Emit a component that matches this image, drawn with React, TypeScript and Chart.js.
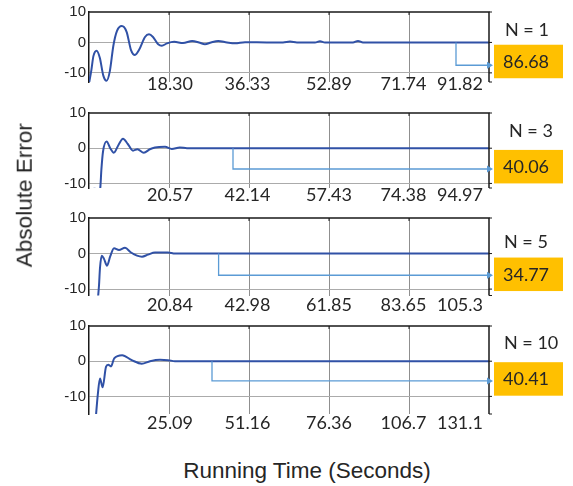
import React, { useEffect, useRef } from 'react';
import { Chart, registerables } from 'chart.js';

Chart.register(...registerables);

// ---- data ----
const tickSlots = [20, 40, 60, 80, 100];

const iterN1 = [0, 0.6, 1.1, 1.9, 2.7, 3.6, 4.4, 5.2, 6.1, 7.0, 8.2, 9.4, 10.5, 11.5, 12.5, 14, 15, 16, 17.3, 18.2, 19.5, 21.3, 23.5, 25.8, 27.5, 29, 30.5, 32.3, 34.5, 36.5, 39, 45, 48.5, 50.25, 52, 56.5, 57.75, 59, 66, 67.25, 68.5, 100];
const errN1 = [-13.5, -9, -4.5, -2.7, -5, -11, -12.6, -9.5, -1, 3.8, 5.4, 3.5, -2.5, -4.1, -2.5, 1.8, 2.7, 1.8, -0.6, -1.1, -0.3, 0.2, -0.2, 0.5, 0, -0.6, 0, 0.5, 0, -0.3, 0.1, 0, 0, 0.3, 0, 0, 0.4, 0, 0, 0.5, 0, 0];

const iterN3 = [0, 1.5, 2.4, 2.8, 3.1, 3.5, 4.4, 5.3, 6.2, 7.4, 8.5, 9.7, 11, 12.1, 13.7, 15.2, 16.5, 19, 20.7, 22.7, 24.5, 100];
const errN3 = [-11.8, -11.5, -12.5, -11.5, -6, -1, 1.9, 0, -1.3, 1.0, 2.7, 1.2, -0.7, -0.3, -1.3, -0.3, 0.2, 0.4, -0.2, 0.2, 0, 0];

const iterN5 = [2.2, 2.5, 2.75, 3.2, 3.75, 4.5, 5.3, 6.25, 7.5, 9, 10.5, 12, 13.25, 14.75, 16.5, 19.75, 21.5, 100];
const errN5 = [-13, -9, -4, -0.6, -1.5, -3.4, -0.8, 1.5, 1.0, 1.6, 0.3, -0.6, -0.9, -0.3, 0.3, 0.3, 0, 0];

const iterN10 = [1.7, 2.2, 2.75, 3.4, 4.25, 4.8, 5.5, 6.3, 8.3, 10.7, 13.2, 15.25, 17.75, 19.75, 21.5, 100];
const errN10 = [-16, -9.5, -4.9, -7.4, -1.6, -1.0, -1.5, 0.8, 1.7, 0.3, -0.7, 0, 0.4, 0.3, 0, 0];

const timeLabelsN1 = ['18.30', '36.33', '52.89', '71.74', '91.82'];
const timeLabelsN3 = ['20.57', '42.14', '57.43', '74.38', '94.97'];
const timeLabelsN5 = ['20.84', '42.98', '61.85', '83.65', '105.3'];
const timeLabelsN10 = ['25.09', '51.16', '76.36', '106.7', '131.1'];

const nValues = [1, 3, 5, 10];
const boxValues = ['86.68', '40.06', '34.77', '40.41'];
const arrowFromX = [91.75, 36, 32.4, 30.75];
const arrowLevel = [-7.5, -5.9, -6.1, -5.6];
const yMins = [-13, -11.3, -11.8, -15];
const yTickValues = [-10, 0, 10];

const series = [
  { x: iterN1, y: errN1, labels: timeLabelsN1 },
  { x: iterN3, y: errN3, labels: timeLabelsN3 },
  { x: iterN5, y: errN5, labels: timeLabelsN5 },
  { x: iterN10, y: errN10, labels: timeLabelsN10 },
];

// ---- layout (pixels) ----
const W = 573;
const PLOT_LEFT = 89;
const PLOT_RIGHT = 489;
const PANELS = [
  { top: 10, bottom: 82, labelY: 84.5, boxDy: 2.3, nDy: -15, nX: 505 },
  { top: 113, bottom: 188, labelY: 195, boxDy: 1.7, nDy: -19, nX: 509 },
  { top: 217.5, bottom: 295, labelY: 305, boxDy: 4, nDy: -15, nX: 504 },
  { top: 326, bottom: 414, labelY: 423, boxDy: 1, nDy: -19, nX: 504 },
];
const LABEL_DX = [1, -1.5, 0, -5.5];
const BOX_LEFT = 494;
const BOX_W = 69;
const BOX_H = 33.5;

function Panel({ idx }: { idx: number }) {
  const ref = useRef<HTMLCanvasElement | null>(null);
  const p = PANELS[idx];
  const canvasTop = Math.max(0, p.top - 12);
  const canvasH = Math.round(p.labelY + 12 - canvasTop);

  useEffect(() => {
    const canvas = ref.current;
    if (!canvas) return;
    const s = series[idx];
    const data = s.x.map((xv, i) => ({ x: xv, y: s.y[i] }));

    const annot = {
      id: 'annot' + idx,
      afterDraw(chart: any) {
        const ctx = chart.ctx as CanvasRenderingContext2D;
        const { left, right, top, bottom } = chart.chartArea;
        const xs = chart.scales.x;
        const ys = chart.scales.y;
        ctx.save();
        // top and right frame
        ctx.strokeStyle = '#1a1a1a';
        ctx.lineWidth = 1.5;
        ctx.beginPath();
        ctx.moveTo(left, top);
        ctx.lineTo(right, top);
        ctx.lineTo(right, bottom);
        ctx.stroke();
        // small ticks
        ctx.lineWidth = 1;
        ctx.beginPath();
        yTickValues.forEach((v) => {
          if (v < ys.min || v > ys.max) return;
          const y = ys.getPixelForValue(v);
          ctx.moveTo(right, y);
          ctx.lineTo(right + 3, y);
        });
        ctx.moveTo(right, bottom);
        ctx.lineTo(right + 3, bottom);
        tickSlots.slice(0, 4).forEach((v) => {
          const x = xs.getPixelForValue(v);
          ctx.moveTo(x, top);
          ctx.lineTo(x, top + 3);
        });
        ctx.stroke();

        // time labels
        ctx.font = '18px Lato';
        ctx.fillStyle = '#262626';
        ctx.textBaseline = 'middle';
        s.labels.forEach((lab, i) => {
          const x = xs.getPixelForValue(tickSlots[i]);
          const y = p.labelY - canvasTop;
          if (i === s.labels.length - 1) {
            ctx.textAlign = 'right';
            ctx.fillText(lab, right - 6, y);
          } else {
            ctx.textAlign = 'center';
            ctx.fillText(lab, x + LABEL_DX[i], y);
          }
        });

        // arrow
        const zeroY = ys.getPixelForValue(0);
        const ax = xs.getPixelForValue(arrowFromX[idx]);
        const ay = ys.getPixelForValue(arrowLevel[idx]);
        ctx.strokeStyle = '#5b9bd5';
        ctx.fillStyle = '#5b9bd5';
        ctx.lineWidth = 1.3;
        ctx.beginPath();
        ctx.moveTo(ax, zeroY);
        ctx.lineTo(ax, ay);
        ctx.lineTo(BOX_LEFT - 5, ay);
        ctx.stroke();
        ctx.beginPath();
        ctx.moveTo(BOX_LEFT - 7, ay - 3.5);
        ctx.lineTo(BOX_LEFT - 1, ay);
        ctx.lineTo(BOX_LEFT - 7, ay + 3.5);
        ctx.closePath();
        ctx.fill();

        // box
        const boxTop = zeroY + p.boxDy;
        ctx.fillStyle = '#FFC000';
        ctx.fillRect(BOX_LEFT, boxTop, BOX_W, BOX_H);
        ctx.fillStyle = '#262626';
        ctx.textAlign = 'left';
        ctx.font = '18px Lato';
        ctx.fillText(boxValues[idx], 503, boxTop + BOX_H / 2 + 0.5);

        // N label
        ctx.font = '18px Lato';
        ctx.fillText('N = ' + nValues[idx], p.nX, boxTop + p.nDy);
        ctx.restore();
      },
    };

    const chart = new Chart(canvas, {
      type: 'line',
      data: {
        datasets: [
          {
            data,
            borderColor: '#3051a6',
            borderWidth: 2,
            pointRadius: 0,
            fill: false,
            cubicInterpolationMode: 'monotone',
          },
        ],
      },
      options: {
        responsive: false,
        animation: false,
        events: [],
        layout: {
          padding: {
            left: 0,
            right: W - PLOT_RIGHT,
            top: p.top - canvasTop,
            bottom: canvasH - (p.bottom - canvasTop),
          },
        },
        plugins: {
          legend: { display: false },
          tooltip: { enabled: false },
          title: { display: false },
        },
        scales: {
          x: {
            type: 'linear',
            min: 0,
            max: 100,
            afterBuildTicks: (sc: any) => {
              sc.ticks = tickSlots.slice(0, 4).map((v) => ({ value: v }));
            },
            ticks: { display: false },
            grid: { color: '#8f8f8f', lineWidth: 1, drawTicks: false },
            border: { display: false },
            afterFit: (sc: any) => {
              sc.height = 0;
            },
          },
          y: {
            type: 'linear',
            min: yMins[idx],
            max: 10,
            afterBuildTicks: (sc: any) => {
              sc.ticks = yTickValues.map((v) => ({ value: v }));
            },
            ticks: {
              font: { family: 'Liberation Sans', size: 15 },
              color: '#262626',
              padding: 3,
            },
            grid: {
              color: (c: any) => (c.tick && c.tick.value === 10 ? 'rgba(0,0,0,0)' : '#ababab'),
              lineWidth: 1,
              drawTicks: false,
            },
            border: { display: true, color: '#1a1a1a', width: 1.5 },
            afterFit: (sc: any) => {
              sc.width = PLOT_LEFT;
            },
          },
        },
      } as any,
      plugins: [annot],
    });
    return () => chart.destroy();
  }, [idx]);

  return (
    <canvas
      ref={ref}
      width={W}
      height={canvasH}
      style={{ position: 'absolute', left: 0, top: canvasTop, width: W, height: canvasH }}
    />
  );
}

export default function App() {
  return (
    <div
      style={{
        position: 'absolute',
        left: 0,
        top: 0,
        width: W,
        height: 486,
        background: '#ffffff',
        overflow: 'hidden',
      }}
    >
      {PANELS.map((_, i) => (
        <Panel key={i} idx={i} />
      ))}
      <div
        style={{
          position: 'absolute',
          left: 25 - 100,
          top: 195 - 11.25,
          width: 200,
          height: 22.5,
          lineHeight: '22.5px',
          textAlign: 'center',
          fontFamily: 'Liberation Sans, Arial, sans-serif',
          fontSize: 22.5,
          color: '#262626',
          whiteSpace: 'nowrap',
          transform: 'rotate(-90deg)',
          transformOrigin: 'center center',
        }}
      >
        Absolute Error
      </div>
      <div
        style={{
          position: 'absolute',
          left: 0,
          top: 460,
          width: 614,
          height: 22.5,
          lineHeight: '22.5px',
          textAlign: 'center',
          fontFamily: 'Liberation Sans, Arial, sans-serif',
          fontSize: 22.5,
          color: '#262626',
          whiteSpace: 'nowrap',
        }}
      >
        Running Time (Seconds)
      </div>
    </div>
  );
}
